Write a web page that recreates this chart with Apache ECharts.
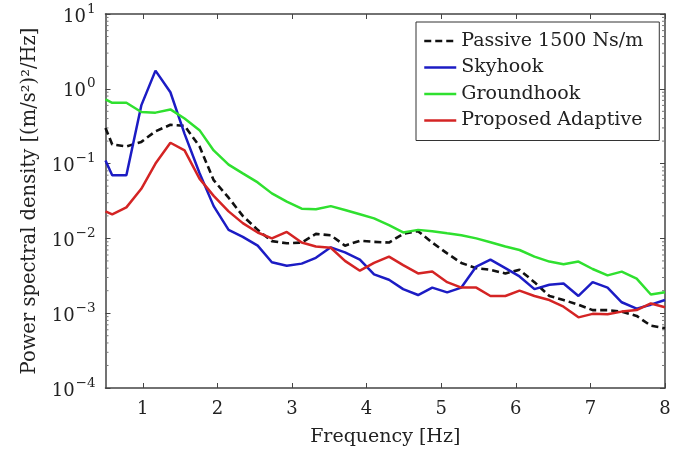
<!DOCTYPE html>
<html>
<head>
<meta charset="utf-8">
<script src="https://cdn.jsdelivr.net/npm/echarts@6/dist/echarts.min.js"></script>
<style>html,body{margin:0;padding:0;background:#fff}#c{width:685px;height:455px}</style>
</head>
<body>
<div id="c"></div>
<script>
const freq = [0.5, 0.59, 0.78, 0.98, 1.17, 1.37, 1.56, 1.76, 1.95, 2.15, 2.34, 2.54, 2.73, 2.93, 3.13, 3.32, 3.52, 3.71, 3.91, 4.10, 4.30, 4.49, 4.69, 4.88, 5.08, 5.27, 5.47, 5.66, 5.86, 6.05, 6.25, 6.45, 6.64, 6.84, 7.03, 7.23, 7.42, 7.62, 7.81, 8.0];
const passive = [0.30, 0.18, 0.17, 0.195, 0.27, 0.33, 0.32, 0.17, 0.06, 0.035, 0.020, 0.013, 0.0092, 0.0086, 0.0088, 0.0115, 0.0110, 0.0080, 0.0093, 0.0090, 0.0088, 0.0115, 0.0125, 0.0088, 0.0063, 0.0047, 0.0040, 0.0038, 0.0034, 0.0038, 0.0026, 0.0017, 0.0015, 0.0013, 0.0011, 0.0011, 0.00105, 0.00092, 0.00068, 0.00063];
const skyhook = [0.11, 0.07, 0.07, 0.6, 1.75, 0.9, 0.25, 0.075, 0.027, 0.013, 0.0105, 0.008, 0.0048, 0.0043, 0.0046, 0.0055, 0.0076, 0.0065, 0.0052, 0.0033, 0.0028, 0.0021, 0.00175, 0.0022, 0.0019, 0.0022, 0.0042, 0.0052, 0.0040, 0.0031, 0.0021, 0.0024, 0.0025, 0.0017, 0.0026, 0.0022, 0.0014, 0.00115, 0.0013, 0.0015];
const groundhook = [0.72, 0.65, 0.65, 0.49, 0.48, 0.53, 0.40, 0.28, 0.15, 0.097, 0.074, 0.056, 0.040, 0.031, 0.025, 0.0245, 0.027, 0.024, 0.021, 0.0185, 0.015, 0.012, 0.013, 0.0125, 0.0117, 0.011, 0.0100, 0.0089, 0.0078, 0.0070, 0.0057, 0.0049, 0.0045, 0.0049, 0.0039, 0.0032, 0.0036, 0.0029, 0.00178, 0.0019];
const adaptive = [0.023, 0.021, 0.026, 0.046, 0.10, 0.19, 0.15, 0.063, 0.037, 0.023, 0.016, 0.012, 0.010, 0.0122, 0.0088, 0.0078, 0.0075, 0.005, 0.0037, 0.0047, 0.0057, 0.0044, 0.0034, 0.0036, 0.0026, 0.0022, 0.0022, 0.0017, 0.0017, 0.0020, 0.0017, 0.0015, 0.00122, 0.00088, 0.00098, 0.00097, 0.00105, 0.0011, 0.00135, 0.0012];
const xTicks = [1, 2, 3, 4, 5, 6, 7, 8];
const seriesNames = ['Passive 1500 Ns/m', 'Skyhook', 'Groundhook', 'Proposed Adaptive'];
const minorVals = [];
for (let k = -4; k <= 0; k++) for (let m = 2; m <= 9; m++) minorVals.push(m * Math.pow(10, k));

const FONT = 'DejaVu Serif';
const AX = '#444';
const pair = arr => freq.map((f, i) => [f, arr[i]]);

const chart = echarts.init(document.getElementById('c'), null, {renderer: 'canvas'});
const supFmt = v => {
  const e = Math.round(Math.log10(v));
  return '{a|10}{b|' + (e < 0 ? '\u2212' + (-e) : e) + '}';
};
const richY = {
  a: {fontFamily: FONT, fontSize: 18, color: '#222', lineHeight: 24, verticalAlign: 'bottom'},
  b: {fontFamily: FONT, fontSize: 13.5, color: '#222', lineHeight: 24, verticalAlign: 'top', padding: [0, 0, 0, 1]}
};
const xBase = {
  type: 'value', min: 0.5, max: 8,
  splitLine: {show: false},
  axisLine: {show: true, lineStyle: {color: AX, width: 1.5}}
};
const yBase = {
  type: 'log', logBase: 10, min: 1e-4, max: 10,
  splitLine: {show: false}, minorTick: {show: false},
  axisLine: {show: true, lineStyle: {color: AX, width: 1.5}}
};
chart.setOption({
  animation: false,
  backgroundColor: '#fff',
  grid: {left: 105.5, right: 20, top: 14, bottom: 67, containLabel: false},
  legend: {
    data: seriesNames, orient: 'vertical', left: 416, top: 22,
    backgroundColor: '#fff', borderColor: '#333', borderWidth: 1,
    padding: [9, 16, 10, 7], itemWidth: 32, itemHeight: 14, itemGap: 6.5,
    itemStyle: {opacity: 0},
    lineStyle: {width: 2.5},
    textStyle: {fontFamily: FONT, fontSize: 19, color: '#222', lineHeight: 20}
  },
  xAxis: [
    Object.assign({}, xBase, {
      position: 'bottom',
      name: 'Frequency [Hz]', nameLocation: 'middle', nameGap: 40,
      nameTextStyle: {fontFamily: FONT, fontSize: 19, color: '#222'},
      axisTick: {show: true, inside: true, length: 5, customValues: xTicks, lineStyle: {color: AX}},
      axisLabel: {show: true, customValues: xTicks, margin: 12, fontFamily: FONT, fontSize: 18, color: '#222'}
    }),
    Object.assign({}, xBase, {
      position: 'top',
      axisTick: {show: true, inside: true, length: 5, customValues: xTicks, lineStyle: {color: AX}},
      axisLabel: {show: false}
    })
  ],
  yAxis: [
    Object.assign({}, yBase, {
      position: 'left',
      name: 'Power spectral density [(m/s\u00b2)\u00b2/Hz]', nameLocation: 'middle', nameGap: 66,
      nameTextStyle: {fontFamily: FONT, fontSize: 19.5, color: '#222'},
      axisTick: {show: true, inside: true, length: 5, lineStyle: {color: AX}},
      axisLabel: {show: true, margin: 10, formatter: supFmt, rich: richY}
    }),
    Object.assign({}, yBase, {
      position: 'right',
      axisTick: {show: true, inside: true, length: 5, lineStyle: {color: AX}},
      axisLabel: {show: false}
    })
  ],
  series: [
    {name: seriesNames[0], type: 'line', data: pair(passive), symbol: 'none', color: '#111',
     lineStyle: {color: '#111', width: 2.6, type: [7, 4]}},
    {name: seriesNames[1], type: 'line', data: pair(skyhook), symbol: 'none', color: '#1c1cc4',
     lineStyle: {color: '#1c1cc4', width: 2.5}},
    {name: seriesNames[2], type: 'line', data: pair(groundhook), symbol: 'none', color: '#2fe02f',
     lineStyle: {color: '#2fe02f', width: 2.5}},
    {name: seriesNames[3], type: 'line', data: pair(adaptive), symbol: 'none', color: '#d42424',
     lineStyle: {color: '#d42424', width: 2.5}},
    {type: 'custom', name: 'minor', silent: true, data: minorVals.map(v => [0.5, v]),
     encode: {x: 0, y: 1},
     renderItem: (params, api) => {
       const v = api.value(1);
       const l = api.coord([0.5, v]);
       const r = api.coord([8, v]);
       return {type: 'group', children: [
         {type: 'line', shape: {x1: l[0], y1: l[1], x2: l[0] + 3, y2: l[1]}, style: {stroke: '#777', lineWidth: 1}},
         {type: 'line', shape: {x1: r[0] - 3, y1: r[1], x2: r[0], y2: r[1]}, style: {stroke: '#777', lineWidth: 1}}
       ]};
     }}
  ]
});
</script>
</body>
</html>
